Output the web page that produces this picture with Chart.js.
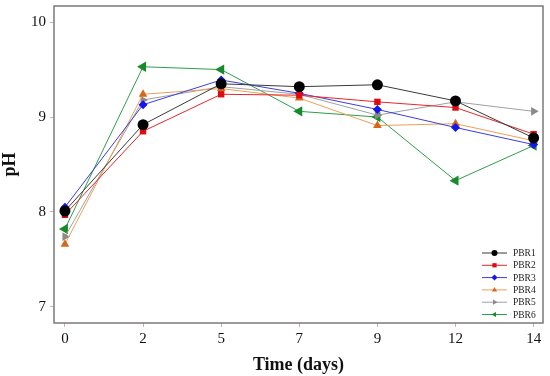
<!DOCTYPE html>
<html>
<head>
<meta charset="utf-8">
<script src="https://cdn.jsdelivr.net/npm/chart.js@4/dist/chart.umd.min.js"></script>
<style>
  html, body { margin: 0; padding: 0; background: #fff; }
  #wrap { width: 550px; height: 376px; }
</style>
</head>
<body>
<div id="wrap"><canvas id="chart" width="550" height="376"></canvas></div>
<script>
// Sampling days (equally spaced on the axis)
const days = ["0", "2", "5", "7", "9", "12", "14"];

// pH per photobioreactor
const pbr1 = [8.01, 8.92, 9.35, 9.32, 9.34, 9.17, 8.78];
const pbr2 = [7.97, 8.85, 9.24, 9.23, 9.16, 9.10, 8.82];
const pbr3 = [8.05, 9.13, 9.39, 9.25, 9.08, 8.89, 8.71];
const pbr4 = [7.66, 9.24, 9.30, 9.20, 8.91, 8.93, 8.75];
const pbr5 = [7.74, 9.18, 9.32, 9.24, 9.02, 9.16, 9.06];
const pbr6 = [7.82, 9.53, 9.50, 9.06, 9.00, 8.33, 8.70];

const yTicks = [7, 8, 9, 10];

function pts(values) {
  return values.map((v, i) => ({ x: i, y: v }));
}

function series(label, values, line, fill, style, radius, rotation) {
  return {
    label: label,
    data: pts(values),
    borderColor: line,
    backgroundColor: fill,
    pointBackgroundColor: fill,
    pointBorderColor: fill,
    pointStyle: style,
    pointRadius: radius,
    pointRotation: rotation || 0,
    borderWidth: 1,
    pointBorderWidth: 0,
    tension: 0
  };
}

const datasets = [
  series("PBR1", pbr1, "#3a3a3a", "#000000", "circle", 5.5),
  series("PBR2", pbr2, "#e8262a", "#e00b10", "rect", 4.5),
  series("PBR3", pbr3, "#3c3ce0", "#1515f0", "rectRot", 4.5),
  series("PBR4", pbr4, "#eea055", "#d8661a", "triangle", 5),
  series("PBR5", pbr5, "#a0a0a0", "#8a8a8a", "triangle", 5, 90),
  series("PBR6", pbr6, "#2e9e48", "#178a2c", "triangle", 6, -90)
];

// box round the plot
const frame = {
  id: "frame",
  afterDatasetsDraw(chart) {
    const a = chart.chartArea;
    const c = chart.ctx;
    c.save();
    c.strokeStyle = "#7a7a7a";
    c.lineWidth = 1.5;
    c.strokeRect(a.left, a.top, a.right - a.left, a.bottom - a.top);
    c.restore();
  }
};

// small legend in the lower right corner of the plot
const cornerLegend = {
  id: "cornerLegend",
  afterDraw(chart) {
    const a = chart.chartArea;
    const c = chart.ctx;
    c.save();
    c.font = "9.5px 'Liberation Serif'";
    c.textBaseline = "middle";
    chart.data.datasets.forEach((ds, i) => {
      const y = a.bottom - 70 + i * 12.3;
      const x0 = a.right - 61, x1 = a.right - 36;
      c.strokeStyle = ds.borderColor;
      c.lineWidth = 1;
      c.beginPath();
      c.moveTo(x0, y);
      c.lineTo(x1, y);
      c.stroke();
      c.fillStyle = ds.pointBackgroundColor;
      c.strokeStyle = ds.pointBackgroundColor;
      Chart.helpers.drawPoint(c, {
        pointStyle: ds.pointStyle,
        rotation: ds.pointRotation,
        radius: 3,
        borderWidth: 0
      }, (x0 + x1) / 2, y);
      c.fillStyle = "#222";
      c.fillText(ds.label, a.right - 30, y + 0.5);
    });
    c.restore();
  }
};

new Chart(document.getElementById("chart"), {
  type: "line",
  data: { datasets: datasets },
  plugins: [frame, cornerLegend],
  options: {
    responsive: false,
    animation: false,
    layout: { padding: { top: 4, right: 7, left: 0, bottom: 0 } },
    plugins: {
      legend: { display: false },
      tooltip: { enabled: false }
    },
    scales: {
      x: {
        type: "linear",
        min: -0.14,
        max: 6.12,
        afterFit: s => { s.height = 53; s.paddingLeft = 0; s.paddingRight = 0; },
        border: { display: false },
        grid: { drawOnChartArea: false, tickLength: 4, color: "#d8a8b0" },
        ticks: {
          stepSize: 1,
          includeBounds: false,
          padding: 3,
          color: "#111",
          font: { family: "'Liberation Serif'", size: 15 },
          callback: v => days[v]
        },
        title: {
          display: true,
          text: "Time (days)",
          color: "#111",
          padding: { top: 0, bottom: 0 },
          font: { family: "'Liberation Serif'", size: 18, weight: "bold" }
        }
      },
      y: {
        min: 6.83,
        max: 10.17,
        afterFit: s => { s.width = 54; s.paddingTop = 0; s.paddingBottom = 0; },
        afterBuildTicks: s => { s.ticks = yTicks.map(v => ({ value: v })); },
        border: { display: false },
        grid: { drawOnChartArea: false, tickLength: 4, color: "#d8a8b0" },
        ticks: {
          padding: 4,
          color: "#111",
          font: { family: "'Liberation Serif'", size: 15 }
        },
        title: {
          display: true,
          text: "pH",
          color: "#111",
          padding: { top: 0, bottom: 6 },
          font: { family: "'Liberation Serif'", size: 18, weight: "bold" }
        }
      }
    }
  }
});
</script>
</body>
</html>
